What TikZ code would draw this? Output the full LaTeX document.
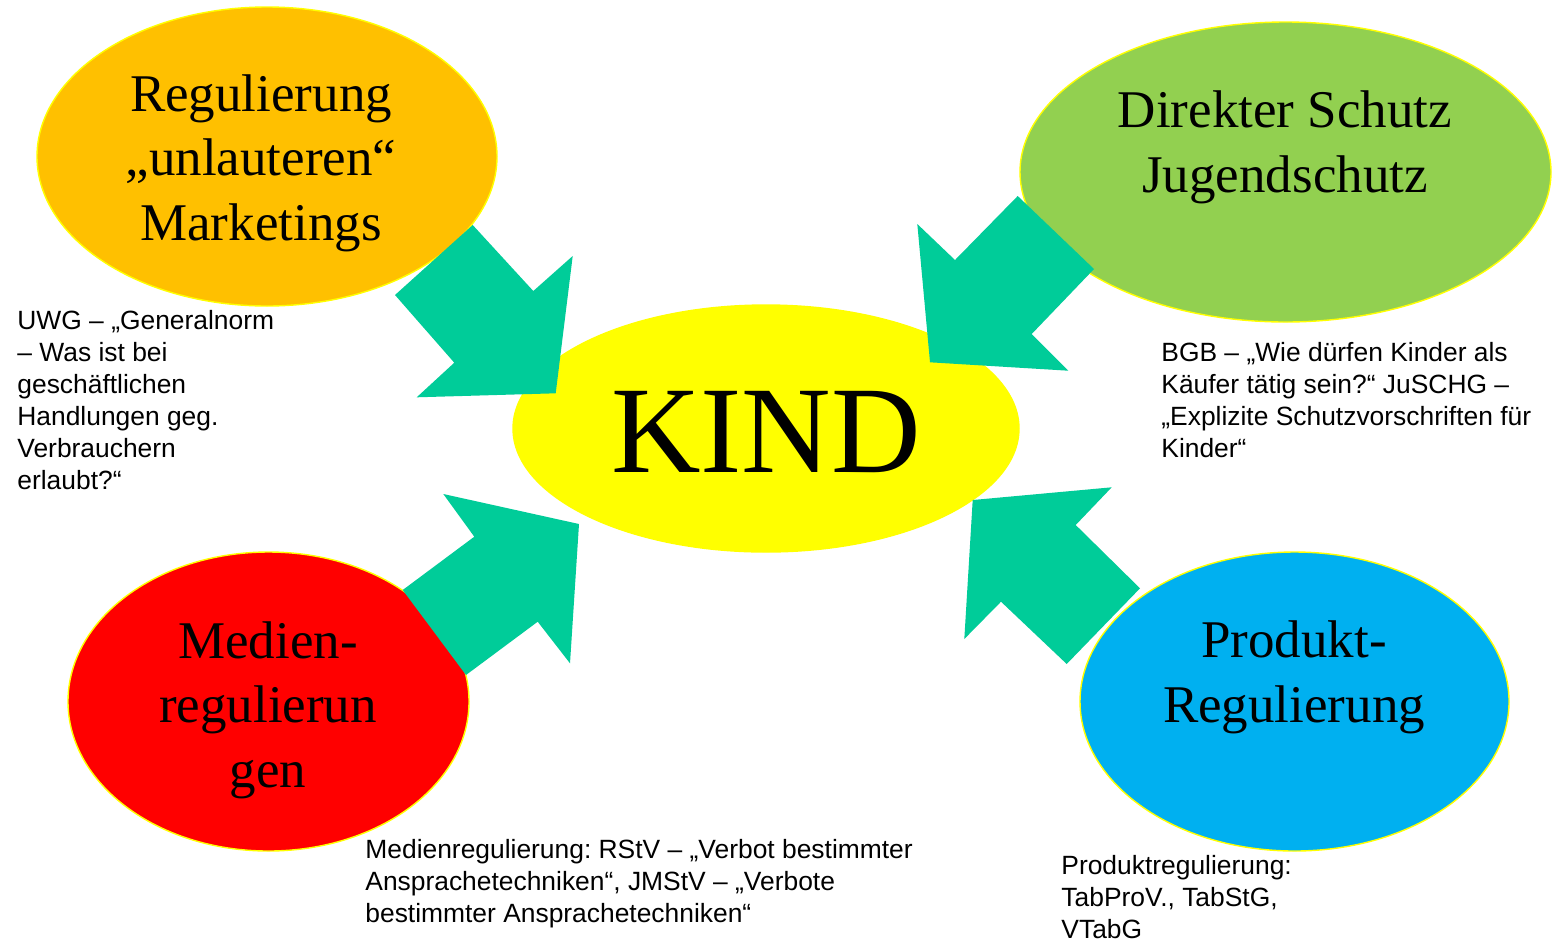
\documentclass[tikz,border=0pt]{standalone}
\usepackage{fontspec}
\setmainfont{Liberation Serif}
\newfontfamily\arialfont{Liberation Sans}
\usetikzlibrary{shapes.geometric}
\definecolor{corange}{HTML}{FFC000}
\definecolor{cgreen}{HTML}{92D050}
\definecolor{cyellow}{HTML}{FFFF00}
\definecolor{cred}{HTML}{FF0000}
\definecolor{cblue}{HTML}{00B0F0}
\definecolor{cteal}{HTML}{00CC99}
\frenchspacing
\tikzset{
  blob/.style={ellipse, draw=cyellow, line width=0.7pt, inner sep=0pt},
  bigarrow/.style={fill=cteal, draw=none},
  title/.style={font=\fontsize{26.5pt}{32.25pt}\selectfont, align=center, inner sep=0pt, anchor=base},
  note/.style={font=\arialfont\fontsize{13.2pt}{16pt}\selectfont\frenchspacing, align=left, inner sep=0pt, anchor=base west}
}
\begin{document}
\begin{tikzpicture}[x=0.5pt,y=-0.5pt]
\useasboundingbox (0,0) rectangle (1556,938);
\fill[white] (0,0) rectangle (1556,938);
% ellipses
\node[blob, fill=corange, minimum width=230pt, minimum height=149.5pt] (reg) at (267,156.5) {};
\node[blob, fill=cgreen, minimum width=265.5pt, minimum height=150pt] (dir) at (1285.5,172) {};
\node[blob, fill=cyellow, minimum width=253pt, minimum height=123.5pt] (kind) at (766,428.5) {};
\node[blob, fill=cred, minimum width=200.5pt, minimum height=149.5pt] (med) at (268.5,701.5) {};
\node[blob, fill=cblue, minimum width=214.5pt, minimum height=149.5pt] (prod) at (1294.5,701.5) {};
% arrows
\fill[bigarrow] (472.7,225) -- (533.3,291) -- (572.7,256) -- (555.7,393.3) -- (416.7,397.3) -- (454.3,362.7) -- (395,295) -- cycle;
\fill[bigarrow] (1017.7,196) -- (1094,269) -- (1031.7,334) -- (1068.3,370.7) -- (930,362.3) -- (917.3,224) -- (955,260) -- cycle;
\fill[bigarrow] (443.3,494) -- (579,524) -- (570,663.3) -- (537.7,621.7) -- (466,675) -- (402.7,590) -- (474.3,536.7) -- cycle;
\fill[bigarrow] (972.7,500) -- (1111.7,487.3) -- (1075.7,525) -- (1140,588.3) -- (1066.7,664) -- (1001,601.7) -- (964.3,639) -- cycle;
% titles (base anchor = baseline of last line)
\node[title] (treg) at (261,240) {Regulierung\\„unlauteren“\\Marketings};
\node[title] (tdir) at (1285,192) {Direkter Schutz\\Jugendschutz};
\node[font=\fontsize{62pt}{70pt}\selectfont, inner sep=0pt, anchor=base] (tkind) at (766,472) {KIND};
\node[title] (tmed) at (268,787) {Medien-\\regulierun\\gen};
\node[title] (tprod) at (1294,722) {Produkt-\\Regulierung};
% notes
\node[note] (nuwg) at (17,489) {UWG – „Generalnorm\\– Was ist bei\\geschäftlichen\\Handlungen geg.\\Verbrauchern\\erlaubt?“};
\node[note] (nbgb) at (1161,457) {BGB – „Wie dürfen Kinder als\\Käufer tätig sein?“ JuSCHG –\\„Explizite Schutzvorschriften für\\Kinder“};
\node[note] (nmed) at (365,922) {Medienregulierung: RStV – „Verbot bestimmter\\Ansprachetechniken“, JMStV – „Verbote\\bestimmter Ansprachetechniken“};
\node[note] (nprod) at (1061,938) {Produktregulierung:\\TabProV., TabStG,\\VTabG};
\end{tikzpicture}
\end{document}
